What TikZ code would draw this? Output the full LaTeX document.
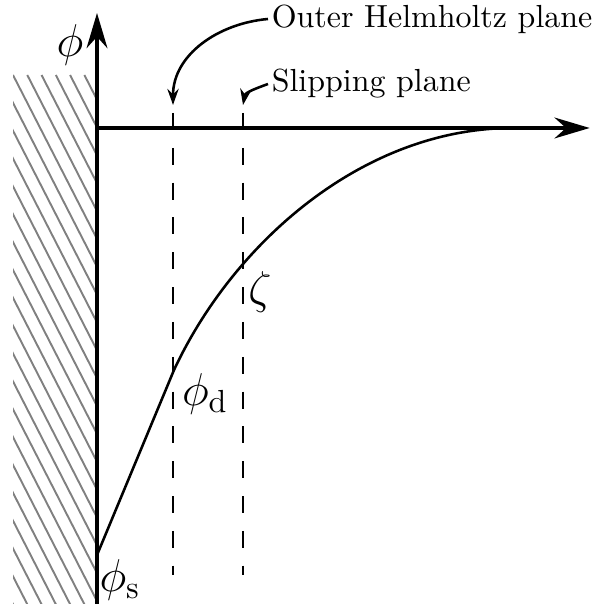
\documentclass[tikz,border=0pt]{standalone}
\usepackage{amsmath}
\usepackage{tikz}
\usetikzlibrary{arrows.meta}
\definecolor{hatchgray}{RGB}{128,128,128}

\begin{document}
\begin{tikzpicture}[>=Stealth,
  axis/.style={line width=1.3pt, -{Stealth[length=11pt, width=6.5pt]}},
  plane/.style={line width=0.9pt, dash pattern=on 5.3pt off 5.6pt},
  hatch/.style={hatchgray, line width=0.6pt},
  potential/.style={thick},
  pointer/.style={thick, -{Stealth[length=5pt, width=3.5pt]}},
  lbl/.style={inner sep=1pt, anchor=west}]
  \useasboundingbox (-1.067,-5.236) rectangle (5.544,1.408);
  % electrode surface
  \begin{scope}
    \clip (-0.924,-5.236) rectangle (0,0.583);
    \foreach \k in {-20,...,6}
      \draw[hatch] (-0.924+\k*0.157,0.583) -- ++(3.1,-6.05);
  \end{scope}
  % axes
  \coordinate (O) at (0,0);
  \coordinate (ybot) at (0,-5.236);
  \coordinate (ytip) at (0,1.265);
  \coordinate (xtip) at (5.42,0);
  \draw[axis] (ybot) -- (ytip);
  \draw[axis] (O) -- (xtip);
  \node[font=\Large] (phiaxis) at (-0.297,0.913) {$\phi$};
  % planes
  \coordinate (ohptop) at (0.836,0.165);
  \coordinate (ohpbot) at (0.836,-4.917);
  \coordinate (sliptop) at (1.606,0.165);
  \coordinate (slipbot) at (1.606,-4.917);
  \draw[plane] (ohptop) -- (ohpbot);
  \draw[plane] (sliptop) -- (slipbot);
  \node[lbl] (ohp) at (1.881,1.199) {Outer Helmholtz plane};
  \node[lbl] (slip) at (1.881,0.484) {Slipping plane};
  \coordinate (ohptip) at (0.836,0.253);
  \coordinate (sliptip) at (1.606,0.253);
  \draw[pointer] (ohp.west) to[out=185, in=90] (ohptip);
  \draw[pointer] (slip.west) to[out=200, in=80] (sliptip);
  % potential profile
  \coordinate (phis) at (0,-4.697);
  \coordinate (phid) at (0.847,-2.662);
  \coordinate (tail) at (4.576,0);
  \draw[potential] (phis) -- (phid) .. controls (1.498,-1.266) and (2.926,0) .. (tail);
  \node[font=\Large] (zeta) at (1.793,-1.804) {$\zeta$};
  \node[font=\Large] (phidl) at (1.188,-2.926) {$\phi_{\mathrm{d}}$};
  \node[font=\Large] (phisl) at (0.253,-4.972) {$\phi_{\mathrm{s}}$};
\end{tikzpicture}
\end{document}
